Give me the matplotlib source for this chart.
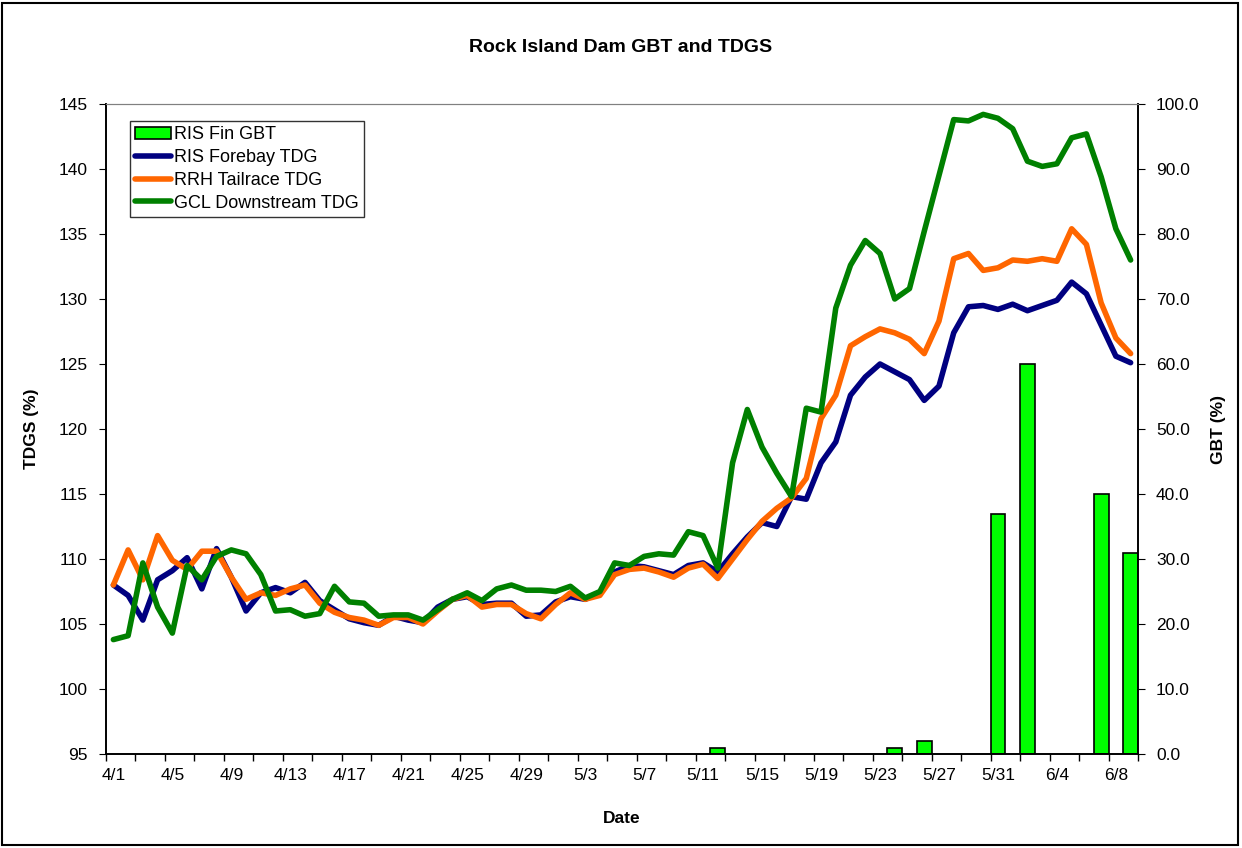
import matplotlib
matplotlib.use('Agg')
import matplotlib.pyplot as plt
from matplotlib.patches import Rectangle
import numpy as np
import pandas as pd

plt.rcParams['font.family'] = ['Liberation Sans', 'DejaVu Sans']

# daily categories 4/1 .. 6/9
dates = pd.date_range('2021-04-01', '2021-06-09')
date_labels = [f'{d.month}/{d.day}' for d in dates]

ris_forebay = [108.0, 107.2, 105.3, 108.4, 109.1, 110.1, 107.7, 110.8, 108.6, 106.0,
               107.4, 107.8, 107.4, 108.2, 106.8, 106.1, 105.4, 105.1, 104.9, 105.6,
               105.3, 105.1, 106.3, 106.9, 107.1, 106.5, 106.6, 106.6, 105.6, 105.7,
               106.7, 107.1, 106.9, 107.4, 109.0, 109.5, 109.4, 109.1, 108.8, 109.5,
               109.7, 109.0, 110.4, 111.7, 112.8, 112.5, 114.8, 114.6, 117.4, 119.0,
               122.6, 124.0, 125.0, 124.4, 123.8, 122.2, 123.3, 127.4, 129.4, 129.5,
               129.2, 129.6, 129.1, 129.5, 129.9, 131.3, 130.4, 128.0, 125.6, 125.1]

rrh_tailrace = [108.0, 110.7, 108.4, 111.8, 109.9, 109.2, 110.6, 110.6, 108.6, 106.9,
                107.4, 107.2, 107.7, 108.0, 106.6, 105.9, 105.5, 105.3, 104.9, 105.5,
                105.5, 105.0, 106.0, 106.9, 107.2, 106.3, 106.5, 106.5, 105.8, 105.4,
                106.5, 107.4, 106.9, 107.2, 108.8, 109.2, 109.3, 109.0, 108.6, 109.3,
                109.6, 108.5, 110.0, 111.5, 112.9, 113.9, 114.7, 116.2, 120.8, 122.6,
                126.4, 127.1, 127.7, 127.4, 126.9, 125.8, 128.3, 133.1, 133.5, 132.2,
                132.4, 133.0, 132.9, 133.1, 132.9, 135.4, 134.2, 129.7, 127.0, 125.8]

gcl_downstream = [103.8, 104.1, 109.7, 106.3, 104.3, 109.5, 108.4, 110.2, 110.7, 110.4,
                  108.8, 106.0, 106.1, 105.6, 105.8, 107.9, 106.7, 106.6, 105.6, 105.7,
                  105.7, 105.3, 106.1, 106.9, 107.4, 106.8, 107.7, 108.0, 107.6, 107.6,
                  107.5, 107.9, 107.0, 107.5, 109.7, 109.5, 110.2, 110.4, 110.3, 112.1,
                  111.8, 109.3, 117.4, 121.5, 118.6, 116.6, 114.8, 121.6, 121.3, 129.3,
                  132.6, 134.5, 133.5, 130.0, 130.8, 135.2, 139.5, 143.8, 143.7, 144.2,
                  143.9, 143.1, 140.6, 140.2, 140.4, 142.4, 142.7, 139.4, 135.4, 133.0]

# RIS fin GBT, only days with a value
gbt_dates = ['5/12', '5/24', '5/26', '5/31', '6/2', '6/7', '6/9']
gbt_values = [1.0, 1.0, 2.0, 37.0, 60.0, 40.0, 31.0]

x = np.arange(len(dates))
gbt_x = [date_labels.index(d) for d in gbt_dates]

fig = plt.figure(figsize=(12.42, 8.48), dpi=100)
ax = fig.add_axes([106/1242, 1-754/848, 1032/1242, 650/848])
ax2 = ax.twinx()

bars = ax2.bar(gbt_x, gbt_values, width=1.0, color='#00FF00', edgecolor='black',
               linewidth=1.2, label='RIS Fin GBT', zorder=1)
ax.set_zorder(ax2.get_zorder() + 1)
ax.patch.set_visible(False)

l1, = ax.plot(x, ris_forebay, color='#000080', lw=4, label='RIS Forebay TDG', solid_capstyle='round')
l2, = ax.plot(x, rrh_tailrace, color='#FF6600', lw=4, label='RRH Tailrace TDG', solid_capstyle='round')
l3, = ax.plot(x, gcl_downstream, color='#008000', lw=4, label='GCL Downstream TDG', solid_capstyle='round')

ax.set_xlim(-0.5, len(dates) - 0.5)
ax.set_ylim(95, 145)
ax2.set_ylim(0, 100)
ax.set_yticks(np.arange(95, 146, 5))
ax2.set_yticks(np.arange(0, 101, 10))
ax2.set_yticklabels([f'{v:.1f}' for v in np.arange(0, 101, 10)])

fs = 12.5
ax.set_xticks(x[::4])
ax.set_xticklabels(date_labels[::4])
ax.set_xticks(np.arange(-0.5, len(dates), 2), minor=True)
ax.tick_params(axis='x', which='major', length=0, pad=10, labelsize=fs)
ax.tick_params(axis='x', which='minor', length=5, direction='out', width=1)
ax.tick_params(axis='y', length=5, direction='out', labelsize=fs, pad=8)
ax2.tick_params(axis='y', length=5, direction='out', labelsize=fs, pad=8)

for a in (ax, ax2):
    a.spines['top'].set_color('#808080')
    for s in ('left', 'right', 'bottom'):
        a.spines[s].set_color('black')
        a.spines[s].set_linewidth(1.2)

ax.set_ylabel('TDGS (%)', fontsize=fs, fontweight='bold')
ax2.set_ylabel('GBT (%)', fontsize=fs, fontweight='bold')
ax.set_xlabel('Date', fontsize=fs, fontweight='bold')
ax.yaxis.set_label_coords(-0.065, 0.5)
ax2.yaxis.set_label_coords(1.071, 0.5)
ax.xaxis.set_label_coords(0.5, -0.088)

fig.text(0.5, 1-47/848, 'Rock Island Dam GBT and TDGS', ha='center', va='center',
         fontsize=14, fontweight='bold')

leg = ax.legend([bars, l1, l2, l3], [h.get_label() for h in [bars, l1, l2, l3]],
                loc='upper left', bbox_to_anchor=(0.023, 0.974), borderaxespad=0,
                fancybox=False, frameon=True, edgecolor='black', fontsize=13,
                handlelength=2.0, handletextpad=0.15, labelspacing=0.32,
                borderpad=0.3)
leg.get_frame().set_linewidth(1.0)

fig.patches.append(Rectangle((0.002, 0.003), 0.995, 0.994, transform=fig.transFigure,
                             fill=False, edgecolor='black', linewidth=1.5))

fig.savefig('out.png', dpi=100)
